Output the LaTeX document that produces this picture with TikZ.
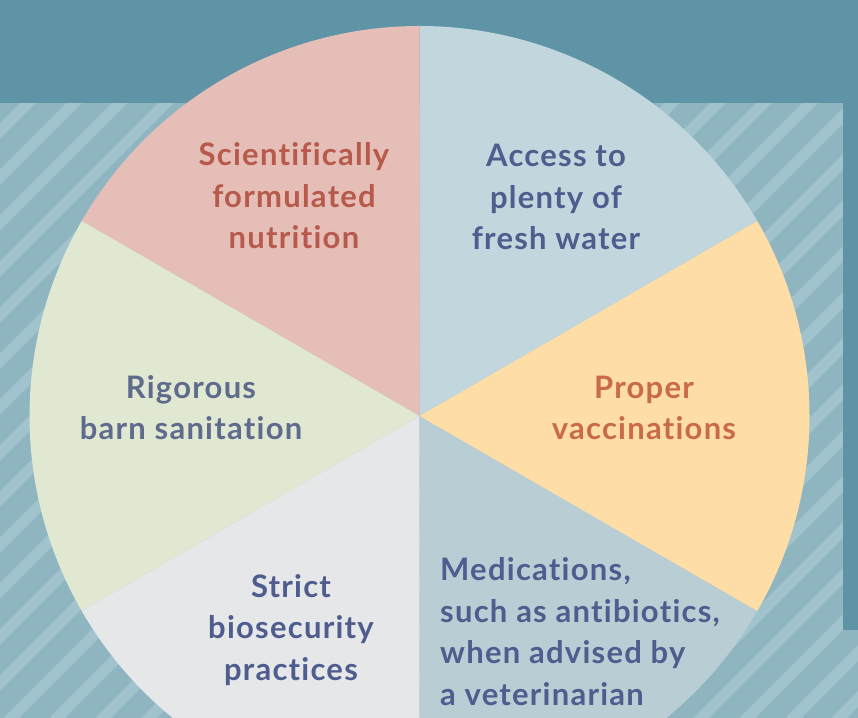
\documentclass[tikz,border=0pt]{standalone}
\usepackage{fontspec}
\setmainfont{Lato}[Ligatures={NoCommon}, LetterSpace=4]
\definecolor{darkteal}{HTML}{5F94A6}
\definecolor{stripebase}{HTML}{8FB5C1}
\definecolor{stripelight}{HTML}{A0C3CD}
\definecolor{secpink}{HTML}{E5BFB7}
\definecolor{secblue}{HTML}{C1D6DD}
\definecolor{secpeach}{HTML}{FEDEA6}
\definecolor{secgrayblue}{HTML}{B9CDD5}
\definecolor{secgray}{HTML}{E6E7E9}
\definecolor{secgreen}{HTML}{E0E8D2}
\definecolor{txtred}{HTML}{B75A4C}
\definecolor{txtslate}{HTML}{4F5D8E}
\definecolor{txtgray}{HTML}{5F6B8C}
\definecolor{txtorange}{HTML}{C96A4A}
\tikzset{
  lab/.style={inner sep=0pt, font=\fontsize{31}{41.5}\selectfont\bfseries, align=center},
}
\begin{document}
\begin{tikzpicture}[x=1pt,y=1pt]
\useasboundingbox (0,0) rectangle (858,717);
% striped background
\fill[stripebase] (-10,-10) rectangle (868,727);
\begin{scope}
\clip (-10,-10) rectangle (868,727);
\foreach \k in {-3,...,37}{
  \pgfmathsetmacro{\d}{-586+46*\k}
  \draw[stripelight, line width=11.3pt] (\d-100,-100) -- (\d+900,900);
}
\end{scope}
% dark teal band and right strip
\fill[darkteal] (-10,614) rectangle (868,727);
\fill[darkteal] (843,87) rectangle (868,727);
% wheel
\coordinate (c) at (419.5,301);
\def\R{390}
\fill[secblue] (c) -- ++(30:\R) arc[start angle=30, end angle=90, radius=\R] -- cycle;
\fill[secpink] (c) -- ++(90:\R) arc[start angle=90, end angle=150, radius=\R] -- cycle;
\fill[secgreen] (c) -- ++(150:\R) arc[start angle=150, end angle=210, radius=\R] -- cycle;
\fill[secgray] (c) -- ++(210:\R) arc[start angle=210, end angle=270, radius=\R] -- cycle;
\fill[secgrayblue] (c) -- ++(270:\R) arc[start angle=270, end angle=330, radius=\R] -- cycle;
\fill[secpeach] (c) -- ++(-30:\R) arc[start angle=-30, end angle=30, radius=\R] -- cycle;
% labels
\node[lab, text=txtred, anchor=base] (nutrition) at (294,468) {Scientifically\\formulated\\nutrition};
\node[lab, text=txtslate, anchor=base] (water) at (556,467) {Access to\\plenty of\\fresh water};
\node[lab, text=txtgray, anchor=base] (sanitation) at (191,277) {Rigorous\\barn sanitation};
\node[lab, text=txtorange, anchor=base] (vaccinations) at (644,277) {Proper\\vaccinations};
\node[lab, text=txtslate, anchor=base] (biosecurity) at (291,37) {Strict\\biosecurity\\practices};
\node[lab, text=txtslate, align=left, anchor=base west] (medications) at (440,12) {Medications,\\such as antibiotics,\\when advised by\\a veterinarian};
\end{tikzpicture}
\end{document}
